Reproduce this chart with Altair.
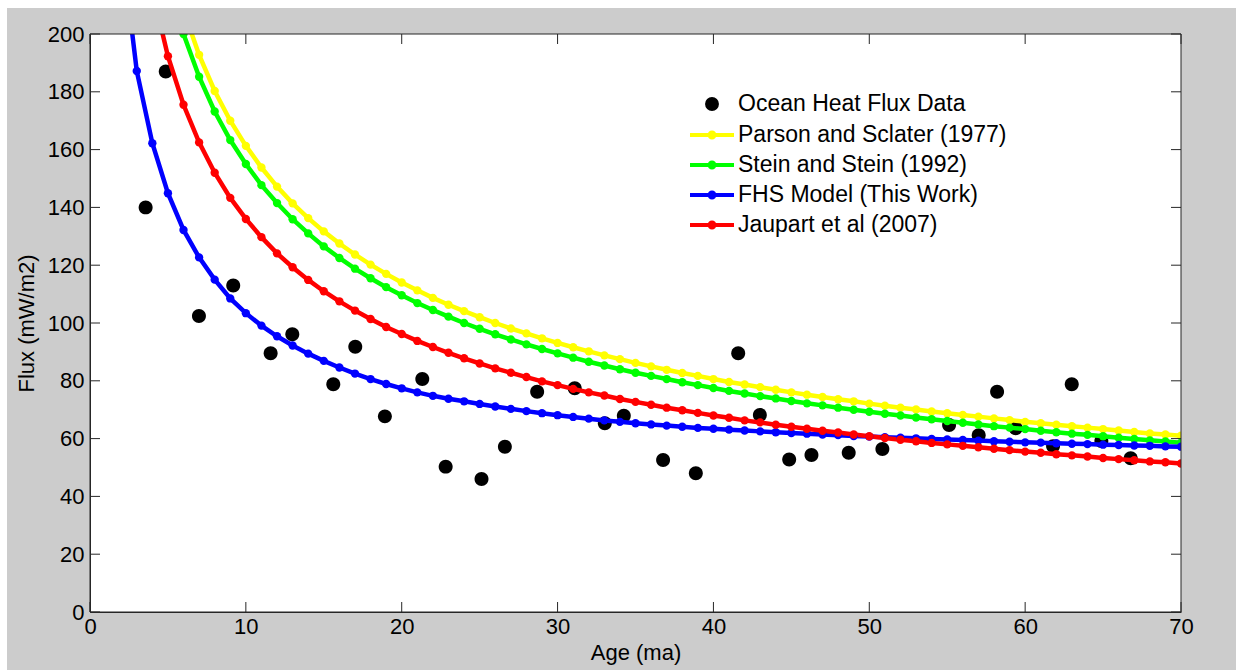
import altair as alt
import pandas as pd

FONT = "Liberation Sans"
AXIS_INK = "#262626"
FIGURE_GRAY = "#cccccc"

# Plot area size in pixels
W, H = 1091, 578

# Measured ocean heat flux: age (Ma) and flux (mW/m2)
ocean_age = [3.57, 4.86, 6.99, 9.19, 11.59, 12.98, 15.61, 17.02, 18.92, 21.32,
             22.82, 25.12, 26.62, 28.69, 31.10, 33.03, 34.25, 36.77, 38.87, 41.59,
             42.98, 44.86, 46.29, 48.68, 50.84, 55.12, 57.02, 58.20, 59.40, 61.79,
             62.99, 64.89, 66.77]
ocean_flux = [140.0, 187.0, 102.4, 113.0, 89.5, 96.1, 78.8, 91.8, 67.7, 80.6,
              50.3, 46.0, 57.2, 76.2, 77.4, 65.3, 67.9, 52.6, 48.0, 89.5,
              68.2, 52.8, 54.3, 55.1, 56.4, 64.7, 61.2, 76.2, 63.6, 57.4,
              78.8, 59.2, 53.2]

# Model curves, one value per Ma starting at the given age
parsons_start = 6
parsons_flux = [208.2, 192.8, 180.3, 170.0, 161.3, 153.8, 147.2, 141.4, 136.3, 131.7,
                127.5, 123.7, 120.2, 117.0, 114.0, 111.3, 108.7, 106.3, 104.1, 102.0,
                100.0, 98.1, 96.4, 94.7, 93.1, 91.6, 90.2, 88.8, 87.5, 86.2,
                85.0, 83.8, 82.7, 81.7, 80.6, 79.6, 78.7, 77.8, 76.9, 76.0,
                75.2, 74.4, 73.6, 72.9, 72.1, 71.4, 70.7, 70.1, 69.4, 68.8,
                68.2, 67.6, 67.0, 66.4, 65.8, 65.3, 64.8, 64.3, 63.8, 63.3,
                62.8, 62.3, 61.8, 61.4, 61.0]

stein_start = 5
stein_flux = [219.1,
              200.0, 185.2, 173.2, 163.3, 155.0, 147.7, 141.5, 135.9, 131.0, 126.5,
              122.5, 118.8, 115.5, 112.4, 109.6, 106.9, 104.5, 102.2, 100.0, 98.0,
              96.1, 94.3, 92.6, 91.0, 89.5, 88.0, 86.6, 85.3, 84.0, 82.8,
              81.7, 80.6, 79.5, 78.5, 77.5, 76.5, 75.6, 74.7, 73.9, 73.0,
              72.2, 71.5, 70.7, 70.0, 69.3, 68.6, 68.0, 67.3, 66.7, 66.1,
              65.5, 64.9, 64.3, 63.8, 63.3, 62.7, 62.2, 61.7, 61.3, 60.8,
              60.3, 59.9, 59.4, 59.0, 58.6]

fhs_start = 2
fhs_flux = [232.0, 187.2, 162.2, 144.9,
            132.2, 122.7, 115.0, 108.5, 103.4, 99.1, 95.4, 92.2, 89.4, 86.9,
            84.6, 82.5, 80.6, 78.9, 77.4, 76.0, 74.8, 73.8, 72.9, 72.0,
            71.1, 70.3, 69.5, 68.8, 68.1, 67.5, 66.9, 66.3, 65.8, 65.3,
            64.9, 64.5, 64.1, 63.7, 63.4, 63.1, 62.8, 62.5, 62.2, 61.9,
            61.7, 61.4, 61.2, 60.9, 60.7, 60.5, 60.3, 60.1, 59.9, 59.7,
            59.5, 59.3, 59.1, 58.9, 58.7, 58.6, 58.4, 58.2, 58.1, 57.9,
            57.8, 57.6, 57.5, 57.3, 57.2]

jaupart_start = 4
jaupart_flux = [215.0, 192.3,
                175.5, 162.5, 152.0, 143.3, 136.0, 129.7, 124.1, 119.3, 114.9, 111.0,
                107.5, 104.3, 101.4, 98.6, 96.2, 93.8, 91.7, 89.7, 87.8, 86.0,
                84.3, 82.8, 81.3, 79.8, 78.5, 77.2, 76.0, 74.9, 73.7, 72.7,
                71.7, 70.7, 69.8, 68.9, 68.0, 67.2, 66.3, 65.6, 64.8, 64.1,
                63.4, 62.7, 62.1, 61.4, 60.8, 60.2, 59.6, 59.1, 58.5, 58.0,
                57.5, 57.0, 56.5, 56.0, 55.5, 55.1, 54.6, 54.2, 53.8, 53.3,
                52.9, 52.5, 52.1, 51.8, 51.4]

series_names = ["Ocean Heat Flux Data", "Parson and Sclater (1977)",
                "Stein and Stein (1992)", "FHS Model (This Work)", "Jaupart et al (2007)"]
series_colors = ["#000000", "#ffff00", "#00ff00", "#0000ff", "#ff0000"]

x_ticks = [0, 10, 20, 30, 40, 50, 60, 70]
y_ticks = [0, 20, 40, 60, 80, 100, 120, 140, 160, 180, 200]

# Symbol paths (unit box is [-1, 1] scaled by sqrt(size) / 2)
dot_path = "M-0.45,0A0.45,0.45,0,1,1,0.45,0A0.45,0.45,0,1,1,-0.45,0Z"
line_dot_path = "M-2,0L2,0M-0.22,0A0.22,0.22,0,1,1,0.22,0A0.22,0.22,0,1,1,-0.22,0Z"

ocean_df = pd.DataFrame({"age": ocean_age, "flux": ocean_flux, "series": series_names[0]})

model_rows = []
for name, start, values in [(series_names[1], parsons_start, parsons_flux),
                            (series_names[2], stein_start, stein_flux),
                            (series_names[3], fhs_start, fhs_flux),
                            (series_names[4], jaupart_start, jaupart_flux)]:
    for i, v in enumerate(values):
        model_rows.append({"age": start + i, "flux": v, "series": name})
model_df = pd.DataFrame(model_rows)

x_tick_df = pd.DataFrame({"age": x_ticks})
y_tick_df = pd.DataFrame({"flux": y_ticks})
one_row = pd.DataFrame({"k": [0]})

x_enc = alt.X("age:Q",
              scale=alt.Scale(domain=[0, 70], nice=False, zero=False),
              axis=alt.Axis(values=x_ticks, title="Age (ma)", labelPadding=4,
                            titlePadding=5, zindex=2))
y_enc = alt.Y("flux:Q",
              scale=alt.Scale(domain=[0, 200], nice=False),
              axis=alt.Axis(values=y_ticks, title="Flux (mW/m2)", labelPadding=6,
                            titlePadding=9, zindex=2))

fill_scale = alt.Scale(domain=series_names, range=series_colors)
stroke_scale = alt.Scale(domain=series_names, range=series_colors)
shape_scale = alt.Scale(domain=series_names, range=[dot_path] + [line_dot_path] * 4)

legend = alt.Legend(title=None, orient="none", legendX=609, legendY=57, padding=0,
                    labelFont=FONT, labelFontSize=23, labelColor="black", labelLimit=500,
                    labelOffset=13, rowPadding=5, symbolSize=484, symbolStrokeWidth=4,
                    symbolOpacity=1, zindex=2)

# Figure background and white axes box
figure_bg = alt.Chart(one_row).mark_rect(color=FIGURE_GRAY).encode(
    x=alt.value(-83), x2=alt.value(1146), y=alt.value(-26), y2=alt.value(636))
axes_bg = alt.Chart(one_row).mark_rect(color="white").encode(
    x=alt.value(0), x2=alt.value(W), y=alt.value(0), y2=alt.value(H))

scatter = alt.Chart(ocean_df).mark_point(filled=True, opacity=1, size=960).encode(
    x=x_enc, y=y_enc,
    fill=alt.Fill("series:N", scale=fill_scale, legend=legend),
    shape=alt.Shape("series:N", scale=shape_scale, legend=legend))

lines = alt.Chart(model_df).mark_line(strokeWidth=4.5, clip=True).encode(
    x=x_enc, y=y_enc,
    stroke=alt.Stroke("series:N", scale=stroke_scale, legend=legend))

markers = alt.Chart(model_df).mark_point(filled=True, opacity=1, size=70, clip=True).encode(
    x=x_enc, y=y_enc,
    fill=alt.Fill("series:N", scale=fill_scale, legend=legend))

# Inward tick marks on all four sides
tick_len = 10
ticks_bottom = alt.Chart(x_tick_df).mark_rule(color=AXIS_INK).encode(
    x=x_enc, y=alt.value(H), y2=alt.value(H - tick_len))
ticks_top = alt.Chart(x_tick_df).mark_rule(color=AXIS_INK).encode(
    x=x_enc, y=alt.value(0), y2=alt.value(tick_len))
ticks_left = alt.Chart(y_tick_df).mark_rule(color=AXIS_INK).encode(
    y=y_enc, x=alt.value(0), x2=alt.value(tick_len))
ticks_right = alt.Chart(y_tick_df).mark_rule(color=AXIS_INK).encode(
    y=y_enc, x=alt.value(W), x2=alt.value(W - tick_len))

frame = alt.Chart(one_row).mark_rect(filled=False, stroke=AXIS_INK, strokeWidth=1).encode(
    x=alt.value(0), x2=alt.value(W), y=alt.value(0), y2=alt.value(H))

chart = alt.layer(
    figure_bg, axes_bg, scatter, lines, markers,
    ticks_bottom, ticks_top, ticks_left, ticks_right, frame
).properties(
    width=W, height=H, background="white",
    padding={"left": 7, "top": 8, "right": 0, "bottom": 0}
).configure_view(
    strokeWidth=0
).configure_axis(
    labelFont=FONT, titleFont=FONT, labelFontSize=22, titleFontSize=22,
    labelColor="black", titleColor="black", titleFontWeight="normal",
    grid=False, ticks=False, domainColor=AXIS_INK,
    labelFlush=False, labelOverlap=False
)

chart.save("out.html", embed_options={"renderer": "svg", "actions": False})
